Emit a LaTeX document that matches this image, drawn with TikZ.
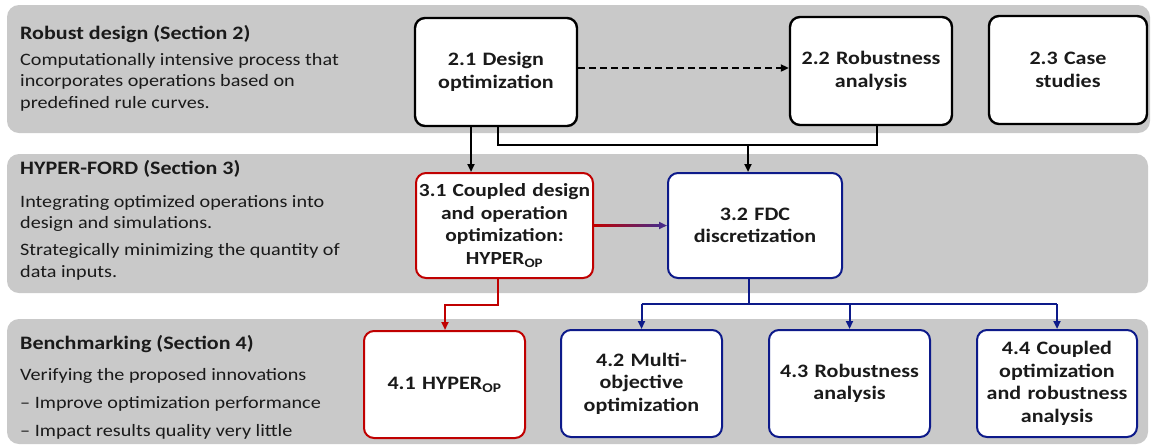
\documentclass[tikz,border=0pt]{standalone}
\usepackage{fontspec}
\setmainfont{Carlito}[FakeStretch=1.16]
\usetikzlibrary{arrows.meta,calc}
\definecolor{band}{HTML}{C9C9C9}
\definecolor{cred}{HTML}{C00000}
\definecolor{cblue}{HTML}{0D1A8A}
\definecolor{cpur}{HTML}{4A2A86}
\definecolor{ctext}{HTML}{1A1A1A}
\tikzset{
  bandbox/.style={fill=band, draw=none, rounded corners=12pt},
  box/.style={draw=black, line width=2.4pt, fill=white, rounded corners=10pt,
    align=center, text=ctext, font=\fontsize{19}{22.6}\selectfont\bfseries,
    inner sep=0pt, text width=#1},
  box/.default=158pt,
  redbox/.style={box=#1, draw=cred, line width=2pt},
  redbox/.default=158pt,
  bluebox/.style={box=#1, draw=cblue, line width=2pt},
  bluebox/.default=158pt,
  ttl/.style={anchor=base west, inner sep=0pt, text=ctext, font=\fontsize{19}{22}\selectfont\bfseries},
  txt/.style={anchor=base west, inner sep=0pt, text=ctext, font=\fontsize{17.4}{21.7}\selectfont},
  tip/.style={-{Triangle[length=8pt,width=7pt]}},
  conn/.style={line width=2pt, line join=miter},
}
\begin{document}
\begin{tikzpicture}[x=1pt,y=-1pt]
\useasboundingbox (0,0) rectangle (1153,445);
% bands
\fill[bandbox] (7,5) rectangle (1150,133);
\fill[bandbox] (7,154) rectangle (1148,293);
\fill[bandbox] (7,319) rectangle (1148,444);
% left texts
\node[ttl] (t1) at (20,39) {Robust design (Section 2)};
\node[txt] (t1a) at (20,65) {Computationally intensive process that};
\node[txt] (t1b) at (20,86.5) {incorporates operations based on};
\node[txt] (t1c) at (20,108) {predefined rule curves.};
\node[ttl] (t2) at (20,174) {HYPER-FORD (Section 3)};
\node[txt] (t2a) at (20,207) {Integrating optimized operations into};
\node[txt] (t2b) at (20,228.5) {design and simulations.};
\node[txt] (t2c) at (20,255) {Strategically minimizing the quantity of};
\node[txt] (t2d) at (20,277) {data inputs.};
\node[ttl] (t3) at (20,349) {Benchmarking (Section 4)};
\node[txt] (t3a) at (20,380) {Verifying the proposed innovations};
\node[txt] (t3b) at (20,408) {\char"2013\ Improve optimization performance};
\node[txt] (t3c) at (20,436) {\char"2013\ Impact results quality very little};
% boxes
\node[box, minimum width=162pt, minimum height=108pt] (n21) at (496,72) {2.1 Design\\optimization};
\node[box, minimum width=162pt, minimum height=108pt] (n22) at (871,71) {2.2 Robustness\\analysis};
\node[box, minimum width=158pt, minimum height=108pt] (n23) at (1068,70) {2.3 Case\\studies};
\node[redbox=172pt, minimum width=177pt, minimum height=105pt, font=\fontsize{18.5}{22.6}\selectfont\bfseries] (n31) at (504.5,225.5) {\makebox[0pt]{3.1 Coupled design}\\and operation\\optimization:\\HYPER\textsubscript{OP}};
\node[bluebox, minimum width=174pt, minimum height=105pt] (n32) at (755,225.5) {3.2 FDC\\discretization};
\node[redbox, minimum width=161pt, minimum height=107pt] (n41) at (444.5,384.5) {4.1 HYPER\textsubscript{OP}};
\node[bluebox, minimum width=161pt, minimum height=107pt] (n42) at (641.5,383.5) {4.2 Multi-\\objective\\optimization};
\node[bluebox, minimum width=161pt, minimum height=107pt] (n43) at (849.5,383.5) {4.3 Robustness\\analysis};
\node[bluebox, minimum width=160pt, minimum height=107pt] (n44) at (1057,383.5) {4.4 Coupled\\optimization\\and robustness\\analysis};
% helper coordinates
\coordinate (xa) at (471,0);
\coordinate (xb) at (498,0);
\coordinate (xc) at (877,0);
\coordinate (xd) at (748,0);
\coordinate (ya) at (0,145);
\coordinate (xr) at (498,0);
\coordinate (xq) at (445,0);
\coordinate (yr) at (0,305);
\coordinate (xs) at (749,0);
\coordinate (ys) at (0,304);
% connectors
\draw[conn, dashed, dash pattern=on 7pt off 4pt, tip] (n21.east |- 0,68) -- (n22.west |- 0,68);
\draw[conn, tip] (n21.south -| xa) -- (n31.north -| xa);
\draw[conn] (n21.south -| xb) -- (xb |- ya) -- (xc |- ya) -- (n22.south -| xc);
\draw[conn, tip] (xd |- ya) -- (n32.north -| xd);
% gradient arrow
\shade[left color=cred, right color=cpur] ($(n31.east)+(0,-1)$) rectangle ($(n32.west)+(-7,1)$);
\draw[line width=2pt, cpur, tip] ($(n32.west)+(-8,0)$) -- (n32.west);
% red
\draw[conn, cred, tip] (n31.south -| xr) -- (xr |- yr) -- (xq |- yr) -- (n41.north -| xq);
% blue
\draw[conn, cblue] (n32.south -| xs) -- (xs |- ys);
\draw[conn, cblue] (n42.north |- ys) -- (n44.north |- ys);
\draw[conn, cblue, tip] (n42.north |- ys) -- (n42.north);
\draw[conn, cblue, tip] (n43.north |- ys) -- (n43.north);
\draw[conn, cblue, tip] (n44.north |- ys) -- (n44.north);
\end{tikzpicture}
\end{document}
